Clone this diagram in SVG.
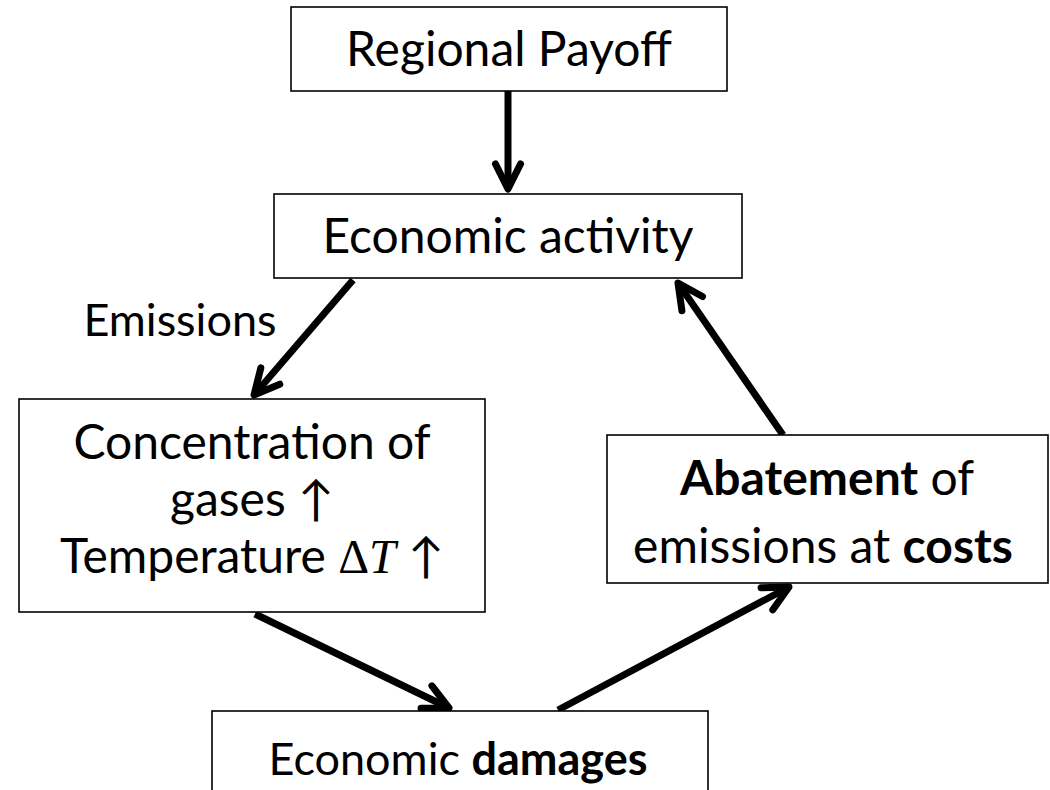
<svg xmlns="http://www.w3.org/2000/svg" width="1050" height="790" viewBox="0 0 1050 790">
  <style>
    .box { fill: #ffffff; stroke: #000000; stroke-width: 1.6; }
    .lbl { font-family: Lato, "DejaVu Sans", sans-serif; font-size: 48px; fill: #000000; text-anchor: middle; }
    .lbl.sm { font-size: 45px; }
    .b { font-weight: bold; }
    .math { font-family: "Liberation Serif", "DejaVu Serif", serif; }
    .conn { stroke: #000000; stroke-width: 7; fill: none; stroke-linecap: butt; marker-end: url(#head); }
  </style>
  <defs>
    <marker id="head" viewBox="-34 -22 44 44" refX="0" refY="0" markerWidth="44" markerHeight="44" markerUnits="userSpaceOnUse" orient="auto">
      <path d="M -25 -12.5 L 0 0 L -25 12.5" fill="none" stroke="#000000" stroke-width="7" stroke-linecap="round" stroke-linejoin="round"/>
    </marker>
  </defs>
  <rect width="1050" height="790" fill="#ffffff"/>

  <g id="connectors">
    <line class="conn" x1="508" y1="91" x2="508" y2="189"/>
    <line class="conn" x1="353" y1="280" x2="254" y2="395"/>
    <line class="conn" x1="783" y1="435" x2="678" y2="283"/>
    <line class="conn" x1="255" y1="614" x2="449" y2="708"/>
    <line class="conn" x1="558" y1="710" x2="789" y2="587"/>
  </g>

  <g id="regional-payoff">
    <rect class="box" x="291" y="7" width="436" height="84"/>
    <text class="lbl" x="509" y="66">Regional Payoff</text>
  </g>

  <g id="economic-activity">
    <rect class="box" x="274" y="194" width="468" height="84"/>
    <text class="lbl" x="508" y="253">Economic activity</text>
  </g>

  <g id="emissions-label">
    <text class="lbl sm" x="180" y="336">Emissions</text>
  </g>

  <g id="concentration">
    <rect class="box" x="19" y="399" width="466" height="213"/>
    <text class="lbl" x="252" y="459">Concentration of</text>
    <text class="lbl" x="252" y="516">gases ↑</text>
    <text class="lbl" x="252" y="573">Temperature <tspan class="math">Δ</tspan><tspan class="math" font-style="italic">T</tspan> ↑</text>
  </g>

  <g id="abatement">
    <rect class="box" x="607" y="435" width="441" height="148"/>
    <text class="lbl" x="827" y="495"><tspan class="b">Abatement</tspan> of</text>
    <text class="lbl" x="823" y="563">emissions at <tspan class="b">costs</tspan></text>
  </g>

  <g id="economic-damages">
    <rect class="box" x="212" y="711" width="496" height="90"/>
    <text class="lbl sm" x="458" y="775">Economic <tspan class="b">damages</tspan></text>
  </g>
</svg>
